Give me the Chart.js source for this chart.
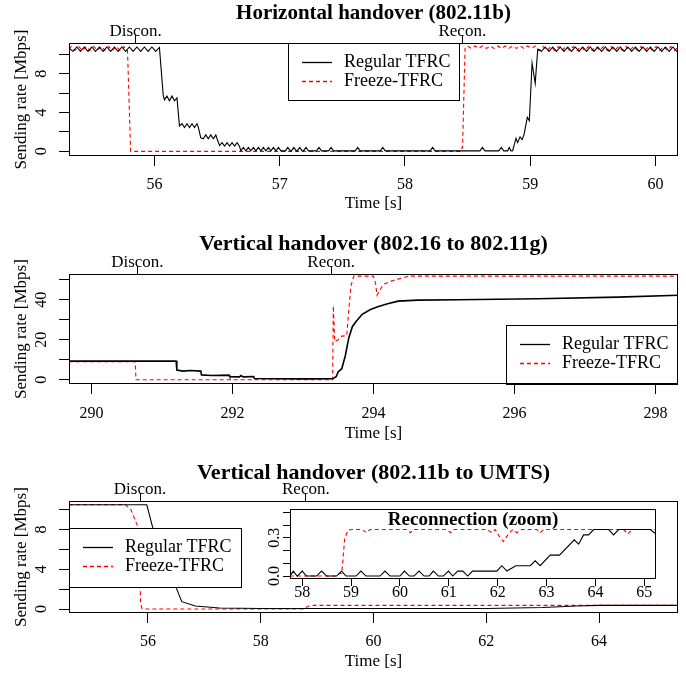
<!DOCTYPE html>
<html>
<head>
<meta charset="utf-8">
<title>TFRC handover sending rate</title>
<script src="https://cdn.jsdelivr.net/npm/chart.js@4.4.1/dist/chart.umd.min.js"></script>
<style>
  body { margin: 0; background: #fff; }
  #wrap { position: relative; width: 686px; height: 675px; }
  canvas { position: absolute; }
</style>
</head>
<body>
<div id="wrap">
  <canvas id="p1" width="686" height="225" style="left:0;top:0"></canvas>
  <canvas id="p2" width="686" height="225" style="left:0;top:230px"></canvas>
  <canvas id="p3" width="686" height="215" style="left:0;top:460px"></canvas>
  <canvas id="p3zoom" width="410" height="100" style="left:262px;top:505px"></canvas>
</div>

<script>
// ===============================
// Data (time [s], rate [Mbps])
// ===============================
const seriesNames = ['Regular TFRC', 'Freeze-TFRC'];
const eventLabels = ['Discon.', 'Recon.'];

// --- Horizontal handover (802.11b)
const h1Regular = [
  [55.32,10.6],[55.35,10.3],[55.38,10.75],[55.41,10.3],[55.44,10.75],[55.47,10.3],[55.50,10.75],
  [55.53,10.3],[55.56,10.75],[55.59,10.3],[55.62,10.75],[55.65,10.3],[55.68,10.75],[55.71,10.3],
  [55.74,10.75],[55.77,10.3],[55.80,10.75],[55.83,10.3],[55.86,10.75],[55.89,10.3],[55.92,10.75],
  [55.95,10.3],[55.98,10.75],[56.01,10.3],[56.04,10.7],
  [56.07,5.8],[56.08,5.3],[56.10,5.7],[56.12,5.2],[56.14,5.7],[56.16,5.2],[56.18,5.5],
  [56.20,2.6],[56.22,2.85],[56.24,2.45],[56.26,2.85],[56.28,2.45],[56.30,2.85],[56.32,2.45],[56.34,2.85],[56.35,2.5],
  [56.37,1.4],[56.39,1.3],[56.41,1.7],[56.43,1.3],[56.45,1.7],[56.47,1.3],[56.49,1.7],[56.50,1.3],
  [56.52,0.6],[56.54,0.9],[56.56,0.55],[56.58,0.9],[56.60,0.55],[56.62,0.9],[56.64,0.55],[56.66,0.9],[56.68,0.5],
  [56.69,0.05],[56.71,0.4],[56.73,0.05],[56.75,0.4],[56.77,0.05],[56.79,0.4],[56.81,0.05],[56.83,0.4],
  [56.85,0.05],[56.87,0.4],[56.89,0.05],[56.91,0.4],[56.93,0.05],[56.95,0.4],[56.97,0.05],[56.99,0.4],[57.01,0.05],
  [57.045,0.05],[57.065,0.4],[57.085,0.05],[57.093,0.05],[57.113,0.4],[57.133,0.05],[57.14,0.05],[57.16,0.4],
  [57.18,0.05],[57.19,0.05],[57.21,0.4],[57.23,0.05],[57.294,0.05],[57.314,0.4],[57.334,0.05],[57.39,0.05],
  [57.41,0.4],[57.43,0.05],[57.603,0.05],[57.623,0.4],[57.643,0.05],[57.803,0.05],[57.823,0.4],[57.843,0.05],
  [58.201,0.05],[58.221,0.4],[58.241,0.05],[58.599,0.05],[58.619,0.4],[58.639,0.05],[58.749,0.05],[58.769,0.4],
  [58.789,0.05],[58.82,0.05],[58.833,0.4],[58.846,0.05],[58.86,0.06],[58.875,0.8],[58.887,1.34],[58.90,0.9],
  [58.919,1.5],[58.935,1.2],[58.95,1.68],[58.977,3.5],[58.993,3.15],[59.015,9.07],[59.04,7.0],[59.06,10.5],
  [59.09,10.3],[59.12,10.75],[59.15,10.3],[59.18,10.75],[59.21,10.3],[59.24,10.75],[59.27,10.3],[59.30,10.75],
  [59.33,10.3],[59.36,10.75],[59.39,10.3],[59.42,10.75],[59.45,10.3],[59.48,10.75],[59.51,10.3],[59.54,10.75],
  [59.57,10.3],[59.60,10.75],[59.63,10.3],[59.66,10.75],[59.69,10.3],[59.72,10.75],[59.75,10.3],[59.78,10.75],
  [59.81,10.3],[59.84,10.75],[59.87,10.3],[59.90,10.75],[59.93,10.3],[59.96,10.75],[59.99,10.3],[60.02,10.75],
  [60.05,10.3],[60.08,10.75],[60.11,10.3],[60.14,10.75],[60.17,10.3],[60.20,10.6]
];
const h1Freeze = [
  [55.32,10.5],[55.335,10.8],[55.365,10.4],[55.395,10.8],[55.425,10.4],[55.455,10.8],[55.485,10.4],
  [55.515,10.8],[55.545,10.4],[55.575,10.8],[55.605,10.4],[55.635,10.8],[55.665,10.4],[55.695,10.8],
  [55.725,10.4],[55.755,10.8],[55.785,10.4],[55.81,0],[58.44,0],[58.45,0.35],[58.46,0.35],[58.48,10.6],
  [58.50,10.85],[58.53,10.6],[58.56,10.85],[58.59,10.6],[58.62,10.85],[58.65,10.6],[58.68,10.85],[58.71,10.6],
  [58.74,10.85],[58.77,10.6],[58.80,10.85],[58.83,10.6],[58.86,10.85],[58.89,10.6],[58.92,10.85],[58.95,10.6],
  [58.98,10.85],[59.01,10.6],[59.04,10.85],[59.075,10.4],[59.105,10.8],[59.135,10.4],[59.165,10.8],[59.195,10.4],
  [59.225,10.8],[59.255,10.4],[59.285,10.8],[59.315,10.4],[59.345,10.8],[59.375,10.4],[59.405,10.8],[59.435,10.4],
  [59.465,10.8],[59.495,10.4],[59.525,10.8],[59.555,10.4],[59.585,10.8],[59.615,10.4],[59.645,10.8],[59.675,10.4],
  [59.705,10.8],[59.735,10.4],[59.765,10.8],[59.795,10.4],[59.825,10.8],[59.855,10.4],[59.885,10.8],[59.915,10.4],
  [59.945,10.8],[59.975,10.4],[60.005,10.8],[60.035,10.4],[60.065,10.8],[60.095,10.4],[60.125,10.8],[60.155,10.4],
  [60.185,10.8]
];
const h1TimeTicks = [56, 57, 58, 59, 60];
const h1RateTicks = [0, 2, 4, 6, 8, 10];
const h1RateLabels = ['0', '', '4', '', '8', ''];
const h1Events = [55.85, 58.458];

// --- Vertical handover (802.16 to 802.11g)
const v1Regular = [
  [289.68,9.3],[291.20,9.3],[291.21,4.8],[291.30,4.3],[291.40,4.6],[291.55,4.3],[291.56,2.4],[291.70,2.1],
  [291.95,2.3],[291.96,1.5],[292.10,1.4],[292.12,2.1],[292.15,1.4],[292.30,1.6],[292.31,0.6],[293.00,0.4],
  [293.42,0.5],[293.47,1.5],[293.50,4.0],[293.55,5.5],[293.60,12.0],[293.65,21.0],[293.70,26.5],[293.75,29.0],
  [293.84,32.7],[293.95,35.0],[294.06,36.5],[294.20,38.0],[294.35,39.3],[294.63,39.8],[295.20,40.0],
  [296.33,40.5],[297.47,41.3],[298.32,42.2]
];
const v1Freeze = [
  [289.68,9.0],[290.62,9.0],[290.63,0],[293.42,0],[293.43,37.0],[293.45,19.0],[293.50,20.0],[293.55,21.8],
  [293.62,22.0],[293.65,35.0],[293.68,47.0],[293.72,51.8],[294.00,51.8],[294.03,48.0],[294.05,42.2],
  [294.14,47.7],[294.25,49.3],[294.42,51.0],[294.50,51.8],[298.32,51.8]
];
const v1TimeTicks = [290, 292, 294, 296, 298];
const v1RateTicks = [0, 10, 20, 30, 40, 50];
const v1RateLabels = ['0', '', '20', '', '40', ''];
const v1Events = [290.65, 293.4];

// --- Vertical handover (802.11b to UMTS)
const v2Regular = [
  [54.60,10.5],[55.98,10.5],[56.08,8.3],[56.35,4.3],[56.60,0.74],[56.84,0.3],[57.27,0.1],[58.00,0.05],
  [62.00,0.05],[62.50,0.1],[63.00,0.15],[63.60,0.3],[64.00,0.37],[65.40,0.37]
];
const v2Freeze = [
  [54.60,10.5],[55.60,10.5],[55.70,10.0],[55.84,8.0],[55.87,0.5],[55.90,0],[58.75,0],[58.85,0.3],
  [58.95,0.37],[65.40,0.37]
];
const v2TimeTicks = [56, 58, 60, 62, 64];
const v2RateTicks = [0, 2, 4, 6, 8, 10];
const v2RateLabels = ['0', '', '4', '', '8', ''];
const v2Events = [55.86, 58.8];

// --- Reconnection (zoom)
const zoomRegular = [
  [57.747,0],[57.816,0.039],[57.898,0],[58.0,0.039],[58.089,0],[58.294,0],[58.396,0.039],[58.499,0],
  [58.704,0],[58.806,0.039],[58.895,0],[59.1,0],[59.202,0.039],[59.305,0],[59.592,0],[59.694,0.039],
  [59.796,0],[60.001,0],[60.09,0.039],[60.193,0],[60.288,0],[60.391,0.039],[60.493,0],[60.596,0],
  [60.684,0.039],[60.787,0],[60.889,0],[60.992,0.039],[61.081,0],[61.183,0.039],[61.286,0.039],[61.388,0],
  [61.484,0.039],[61.982,0.039],[62.085,0.081],[62.187,0.039],[62.372,0.081],[62.665,0.081],[62.768,0.12],
  [62.87,0.081],[63.075,0.164],[63.266,0.164],[63.567,0.284],[63.656,0.25],[63.758,0.323],[63.861,0.323],
  [63.963,0.365],[64.27,0.365],[64.373,0.323],[64.475,0.365],[65.124,0.365],[65.24,0.33]
];
const zoomFreeze = [
  [57.747,0],[58.70,0],[58.76,0.02],[58.81,0.02],[58.87,0.3],[58.94,0.36],[59.01,0.365],[59.22,0.365],
  [59.32,0.34],[59.39,0.365],[60.14,0.365],[60.21,0.34],[60.27,0.365],[60.96,0.365],[61.03,0.34],
  [61.09,0.365],[61.78,0.365],[61.88,0.34],[61.95,0.365],[62.05,0.3],[62.12,0.27],[62.22,0.33],
  [62.31,0.365],[62.39,0.34],[62.49,0.365],[62.80,0.365],[62.87,0.34],[62.94,0.365],[64.58,0.365],
  [64.66,0.33],[64.75,0.365],[65.24,0.365]
];
const zoomTimeTicks = [58, 59, 60, 61, 62, 63, 64, 65];
const zoomRateTicks = [0, 0.1, 0.2, 0.3, 0.4, 0.5];
const zoomRateLabels = ['0.0', '', '', '0.3', '', ''];

// ===============================
// Helpers
// ===============================
const SERIF = "'Liberation Serif', 'Times New Roman', serif";
const toXY = arr => arr.map(p => ({ x: p[0], y: p[1] }));

function lines(regular, freeze, blackWidth) {
  return [
    { label: seriesNames[0], data: toXY(regular), borderColor: '#000000', borderWidth: blackWidth || 1.1,
      pointRadius: 0, tension: 0, fill: false },
    { label: seriesNames[1], data: toXY(freeze), borderColor: '#ff0000', borderWidth: 1.1,
      borderDash: [4, 3], pointRadius: 0, tension: 0, fill: false }
  ];
}

// draws what R's base graphics adds: box, rotated y labels, titles, boxed legend
const rPlot = {
  id: 'rPlot',
  beforeDatasetsDraw(chart, args, o) {
    const ca = chart.chartArea;
    if (o.fillArea) {
      const ctx = chart.ctx;
      ctx.save();
      ctx.fillStyle = '#fff';
      ctx.fillRect(ca.left, ca.top, ca.right - ca.left, ca.bottom - ca.top);
      ctx.restore();
    }
  },
  afterDatasetsDraw(chart, args, o) {
    const ctx = chart.ctx, ca = chart.chartArea;
    ctx.save();
    // legend
    if (o.legend) {
      const L = o.legend;
      ctx.fillStyle = '#fff';
      ctx.fillRect(L.x, L.y, L.w, L.h);
      ctx.strokeStyle = '#000';
      ctx.lineWidth = 1;
      ctx.strokeRect(L.x + 0.5, L.y + 0.5, L.w, L.h);
      ctx.font = '18px ' + SERIF;
      ctx.textBaseline = 'middle';
      ctx.textAlign = 'left';
      chart.data.datasets.forEach((ds, i) => {
        const y = Math.round(L.y + 19 + i * 19) + 0.5;
        ctx.strokeStyle = ds.borderColor;
        ctx.lineWidth = 1.3;
        ctx.setLineDash(ds.borderDash || []);
        ctx.beginPath();
        ctx.moveTo(L.x + 14, y);
        ctx.lineTo(L.x + 44, y);
        ctx.stroke();
        ctx.setLineDash([]);
        ctx.fillStyle = '#000';
        ctx.fillText(ds.label, L.x + 56, y);
      });
    }
    // box
    ctx.strokeStyle = '#000';
    ctx.lineWidth = 1;
    const l = Math.round(ca.left) + 0.5, t = Math.round(ca.top) + 0.5;
    const r = Math.round(ca.right) - 0.5, b = Math.round(ca.bottom) - 0.5;
    ctx.strokeRect(l, t, r - l, b - t);
    // rotated y tick labels
    ctx.fillStyle = '#000';
    ctx.font = (o.yFont || 16) + 'px ' + SERIF;
    ctx.textAlign = 'center';
    ctx.textBaseline = 'middle';
    o.yTicks.forEach((v, i) => {
      if (!o.yLabels[i]) return;
      const py = chart.scales.y.getPixelForValue(v);
      ctx.save();
      ctx.translate(o.yLabelX, py);
      ctx.rotate(-Math.PI / 2);
      ctx.fillText(o.yLabels[i], 0, 0);
      ctx.restore();
    });
    // title
    if (o.title) {
      ctx.font = 'bold ' + o.titleSize + 'px ' + SERIF;
      ctx.textAlign = 'center';
      ctx.textBaseline = 'middle';
      ctx.fillText(o.title, (ca.left + ca.right) / 2, o.titleY);
    }
    ctx.restore();
  }
};

function panel(id, cfg) {
  const fixTicks = arr => s => { s.ticks = arr.map(v => ({ value: v })); };
  const topBand = cfg.events ? 30 : 0;
  const scales = {
    x: {
      type: 'linear', position: 'bottom', min: cfg.xMin, max: cfg.xMax,
      afterBuildTicks: fixTicks(cfg.xTicks),
      afterFit: s => { s.height = cfg.xHeight; },
      border: { display: false },
      grid: { drawOnChartArea: false, drawTicks: true, tickLength: cfg.tick, color: '#000' },
      ticks: { color: '#000', font: { family: SERIF, size: 16 }, padding: cfg.xPad,
               autoSkip: false, maxRotation: 0, callback: v => String(v) },
      title: cfg.xTitle ? { display: true, text: 'Time [s]', color: '#000',
               font: { family: SERIF, size: 17 }, padding: { top: 0, bottom: cfg.xTitlePad } }
             : { display: false }
    },
    y: {
      type: 'linear', position: 'left', min: cfg.yMin, max: cfg.yMax,
      afterBuildTicks: fixTicks(cfg.yTicks),
      afterFit: s => { s.width = cfg.yWidth; },
      border: { display: false },
      grid: { drawOnChartArea: false, drawTicks: true, tickLength: cfg.tick, color: '#000' },
      ticks: { display: false },
      title: cfg.yTitle ? { display: true, text: 'Sending rate [Mbps]', color: '#000',
               font: { family: SERIF, size: 17 }, padding: { top: 11, bottom: 0 } }
             : { display: false }
    }
  };
  if (cfg.events) {
    // top axis carrying the Discon./Recon. marks
    scales.x2 = {
      type: 'linear', position: 'top', min: cfg.xMin, max: cfg.xMax,
      afterBuildTicks: fixTicks(cfg.events),
      afterFit: s => { s.height = topBand; },
      border: { display: false },
      grid: { drawOnChartArea: false, drawTicks: true, tickLength: 8, color: '#000' },
      ticks: { color: '#000', font: { family: SERIF, size: 17 }, padding: -7,
               autoSkip: false, maxRotation: 0, callback: (v, i) => eventLabels[i] }
    };
  }
  return new Chart(document.getElementById(id), {
    type: 'line',
    data: { datasets: cfg.datasets },
    options: {
      responsive: false,
      animation: false,
      events: [],
      layout: { padding: { left: 0, right: cfg.right, top: cfg.top - topBand, bottom: 0 } },
      scales: scales,
      plugins: {
        legend: { display: false },
        title: { display: false },
        tooltip: { enabled: false },
        rPlot: {
          title: cfg.title, titleY: cfg.titleY, titleSize: cfg.titleSize,
          yTicks: cfg.yTicks, yLabels: cfg.yLabels, yLabelX: cfg.yLabelX,
          legend: cfg.legend, fillArea: cfg.fillArea
        }
      }
    },
    plugins: [rPlot]
  });
}

// ===============================
// Panels (positions are local to each canvas)
// ===============================
panel('p1', {
  datasets: lines(h1Regular, h1Freeze),
  xMin: 55.318, xMax: 60.18, xTicks: h1TimeTicks, events: h1Events,
  yMin: -0.48, yMax: 11.16, yTicks: h1RateTicks, yLabels: h1RateLabels,
  top: 43, right: 8, yWidth: 69, xHeight: 69, tick: 10, xPad: 9, xTitle: true, xTitlePad: 11,
  yTitle: true, yLabelX: 42, title: 'Horizontal handover (802.11b)', titleY: 14, titleSize: 21,
  legend: { x: 288, y: 43, w: 171, h: 57 }
});

panel('p2', {
  datasets: lines(v1Regular, v1Freeze, 1.6),
  xMin: 289.68, xMax: 298.32, xTicks: v1TimeTicks, events: v1Events,
  yMin: -2.15, yMax: 52.85, yTicks: v1RateTicks, yLabels: v1RateLabels,
  top: 44, right: 8, yWidth: 69, xHeight: 71, tick: 10, xPad: 10, xTitle: true, xTitlePad: 11,
  yTitle: true, yLabelX: 42, title: 'Vertical handover (802.16 to 802.11g)', titleY: 14, titleSize: 22,
  legend: { x: 506, y: 95, w: 171, h: 59 }
});

panel('p3', {
  datasets: lines(v2Regular, v2Freeze),
  xMin: 54.6, xMax: 65.4, xTicks: v2TimeTicks, events: v2Events,
  yMin: -0.40, yMax: 10.88, yTicks: v2RateTicks, yLabels: v2RateLabels,
  top: 41, right: 8, yWidth: 69, xHeight: 62, tick: 10, xPad: 9, xTitle: true, xTitlePad: 3,
  yTitle: true, yLabelX: 42, title: 'Vertical handover (802.11b to UMTS)', titleY: 13, titleSize: 22,
  legend: { x: 69, y: 68, w: 172, h: 59 }
});

panel('p3zoom', {
  datasets: lines(zoomRegular, zoomFreeze),
  xMin: 57.75, xMax: 65.24, xTicks: zoomTimeTicks,
  yMin: -0.023, yMax: 0.526, yTicks: zoomRateTicks, yLabels: zoomRateLabels,
  top: 4, right: 16, yWidth: 28, xHeight: 26, tick: 7, xPad: -3, xTitle: false,
  yTitle: false, yLabelX: 13, title: 'Reconnection (zoom)', titleY: 15, titleSize: 19,
  fillArea: true
});
</script>
</body>
</html>
